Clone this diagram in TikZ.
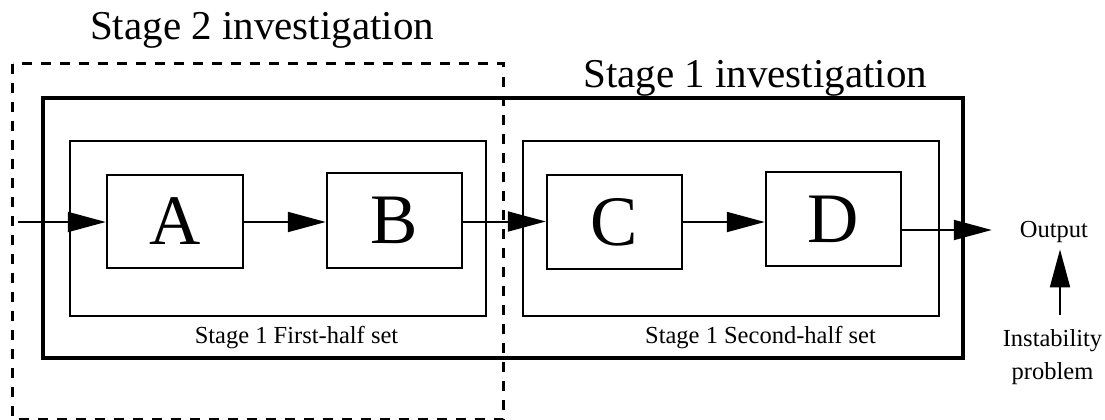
\documentclass[tikz,border=0pt]{standalone}
\usepackage{fontspec}
\setmainfont{Liberation Serif}
\usetikzlibrary{arrows.meta}

\tikzset{
  blockbox/.style={draw, line width=2.5pt, minimum width=135pt, minimum height=94pt,
                   inner sep=0pt, font=\fontsize{71}{71}\selectfont},
  setbox/.style={draw, line width=2.5pt},
  stagebox/.style={draw, line width=4.5pt},
  probebox/.style={draw, line width=3pt, dash pattern=on 10pt off 9pt},
  flow/.style={line width=2pt, -{Triangle[length=38pt,width=20pt]}},
  title/.style={font=\fontsize{41}{41}\selectfont, inner sep=0pt, anchor=base west},
  caption/.style={font=\fontsize{24.5}{33}\selectfont, inner sep=0pt, align=center},
}

\begin{document}
\begin{tikzpicture}[x=1pt, y=-1pt]
  \useasboundingbox (0,0) rectangle (1105,420);

  % Enclosing frames
  \draw[stagebox] (43,98) rectangle (963,358);
  \draw[setbox] (70,141) rectangle (486,316);
  \draw[setbox] (523,141) rectangle (939,316);
  \draw[probebox] (12.5,64) rectangle (503,419);

  % Titles of the two investigations
  \node[title] (t2) at (90,39.5) {Stage 2 investigation};
  \node[title] (t1) at (583,88) {Stage 1 investigation};

  % Captions of the two halves
  \node[caption, anchor=base] (h1) at (296.5,343) {Stage 1 First-half set};
  \node[caption, anchor=base] (h2) at (760.5,343) {Stage 1 Second-half set};

  % Processing blocks
  \node[blockbox, minimum width=136pt, minimum height=93pt] (A) at (175,221.5) {A};
  \node[blockbox, minimum height=95pt] (B) at (394.5,220.5) {B};
  \node[blockbox] (C) at (614.5,222) {C};
  \node[blockbox] (D) at (833.5,219) {D};

  % Output and disturbance
  \node[caption, anchor=base] (out) at (1054,237) {Output};
  \node[caption, anchor=base] (inst) at (1052.5,379) {Instability\\problem};
  \coordinate (in) at (18,222);
  \coordinate (upx) at (1060,0);

  % Signal flow
  \draw[flow] (in) -- (A.west |- in);
  \draw[flow] (A.east |- 0,222) -- (B.west |- 0,222);
  \draw[flow] (B.east |- 0,221.5) -- (C.west |- 0,221.5);
  \draw[flow] (C.east |- 0,222) -- (D.west |- 0,222);
  \draw[flow, shorten >=28pt] (D.east |- 0,230) -- (out.west |- 0,230);
  \draw[flow, shorten <=14pt, shorten >=7pt] (inst.north -| upx) -- (out.south -| upx);
\end{tikzpicture}
\end{document}
